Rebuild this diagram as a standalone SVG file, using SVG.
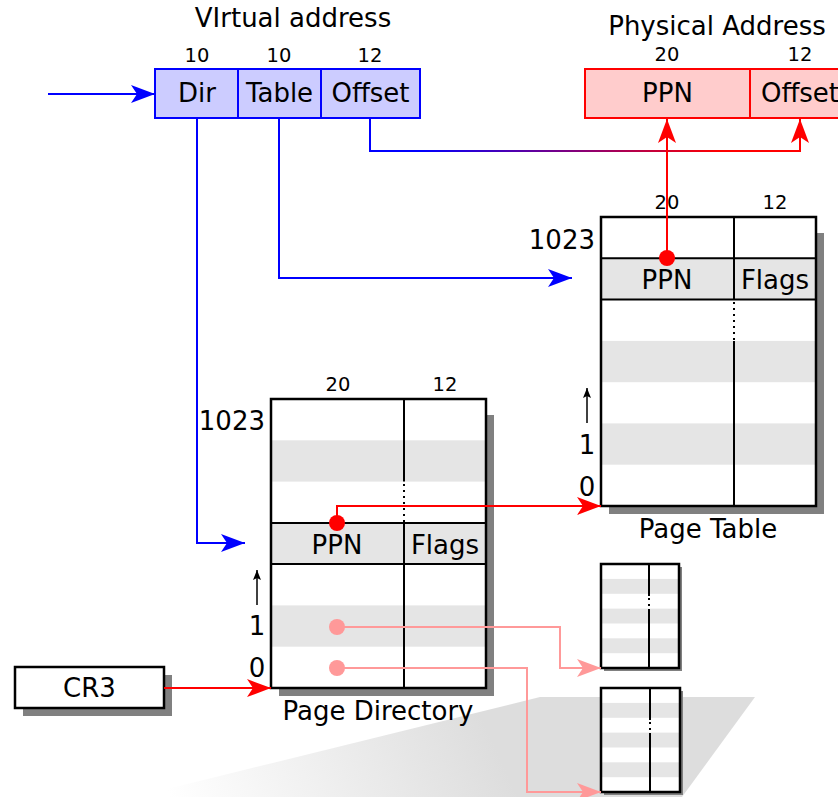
<svg xmlns="http://www.w3.org/2000/svg" width="838" height="797" viewBox="0 0 838 797">
<style>
text{font-family:"DejaVu Sans","Liberation Sans",sans-serif;fill:#000}
.lg{font-size:26px}
.sm{font-size:19.5px}
.mid{text-anchor:middle}
.end{text-anchor:end}
.bd{fill:none;stroke:#000;stroke-width:2.5}
.ln{stroke:#000;stroke-width:2;fill:none}
.dot{stroke:#000;stroke-width:2;stroke-dasharray:2,4;fill:none}
.gr{fill:#e5e5e5}
.sh{fill:#808080}
.blue{stroke:#0000ff;stroke-width:2;fill:none}
.red{stroke:#ff0000;stroke-width:2;fill:none}
.pink{stroke:#ff9999;stroke-width:2;fill:none}
</style>
<defs>
<linearGradient id="gBR" gradientUnits="userSpaceOnUse" x1="420" y1="0" x2="720" y2="0">
<stop offset="0" stop-color="#0000ff"/><stop offset="1" stop-color="#ff0000"/>
</linearGradient>
<linearGradient id="floor" gradientUnits="userSpaceOnUse" x1="180" y1="820" x2="470" y2="690">
<stop offset="0" stop-color="#ffffff"/><stop offset="1" stop-color="#dddddd"/>
</linearGradient>
<marker id="aB" markerUnits="userSpaceOnUse" viewBox="0 0 24 18" markerWidth="24" markerHeight="18" refX="24" refY="9" orient="auto"><path d="M0,0 L24,9 L0,18 L6,9 Z" fill="#0000ff"/></marker>
<marker id="aR" markerUnits="userSpaceOnUse" viewBox="0 0 24 18" markerWidth="24" markerHeight="18" refX="24" refY="9" orient="auto"><path d="M0,0 L24,9 L0,18 L6,9 Z" fill="#ff0000"/></marker>
<marker id="aP" markerUnits="userSpaceOnUse" viewBox="0 0 24 18" markerWidth="24" markerHeight="18" refX="24" refY="9" orient="auto"><path d="M0,0 L24,9 L0,18 L6,9 Z" fill="#ff9999"/></marker>
<marker id="aK" markerUnits="userSpaceOnUse" viewBox="0 0 10 8" markerWidth="10" markerHeight="8" refX="10" refY="4" orient="auto"><path d="M0,0 L10,4 L0,8 L2,4 Z" fill="#000"/></marker>
</defs>
<rect width="838" height="797" fill="#fff"/>
<polygon points="135,797 540,697 755,697 682,797" fill="url(#floor)"/>

<g id="virtual-address">
<text class="lg mid" x="293" y="27">VIrtual address</text>
<text class="sm mid" x="197" y="62">10</text>
<text class="sm mid" x="279" y="62">10</text>
<text class="sm mid" x="370" y="62">12</text>
<rect x="155" y="69" width="265" height="49" fill="#ccccff" stroke="#0000ff" stroke-width="2"/>
<line x1="238" y1="69" x2="238" y2="118" stroke="#0000ff" stroke-width="2"/>
<line x1="321" y1="69" x2="321" y2="118" stroke="#0000ff" stroke-width="2"/>
<text class="lg mid" x="197" y="102">Dir</text>
<text class="lg mid" x="279.5" y="102">Table</text>
<text class="lg mid" x="370.5" y="102">Offset</text>
</g>

<g id="physical-address">
<text class="lg mid" x="717" y="35">Physical Address</text>
<text class="sm mid" x="667" y="61">20</text>
<text class="sm mid" x="800" y="61">12</text>
<rect x="585" y="69" width="270" height="49" fill="#ffcccc" stroke="#ff0000" stroke-width="2"/>
<line x1="750" y1="69" x2="750" y2="118" stroke="#ff0000" stroke-width="2"/>
<text class="lg mid" x="667.5" y="102">PPN</text>
<text class="lg mid" x="800" y="102">Offset</text>
</g>

<g id="page-table">
<text class="sm mid" x="667" y="209">20</text>
<text class="sm mid" x="775" y="209">12</text>
<rect class="sh" x="609" y="233" width="215" height="281"/>
<rect x="601" y="217" width="215" height="289" fill="#fff"/>
<rect class="gr" x="601" y="258.3" width="215" height="41.3"/>
<rect class="gr" x="601" y="340.9" width="215" height="41.3"/>
<rect class="gr" x="601" y="423.4" width="215" height="41.3"/>
<line class="ln" x1="601" y1="258.3" x2="816" y2="258.3"/>
<line class="ln" x1="601" y1="299.6" x2="816" y2="299.6"/>
<line class="ln" x1="734" y1="217" x2="734" y2="299.6"/>
<line class="dot" x1="734" y1="302" x2="734" y2="340.9"/>
<line class="ln" x1="734" y1="340.9" x2="734" y2="506"/>
<rect class="bd" x="601" y="217" width="215" height="289"/>
<text class="lg mid" x="667" y="289">PPN</text>
<text class="lg mid" x="775" y="289">Flags</text>
<text class="lg end" x="595" y="249">1023</text>
<text class="lg mid" x="587" y="454">1</text>
<text class="lg mid" x="587" y="496">0</text>
<line x1="587" y1="423" x2="587" y2="388" stroke="#000" stroke-width="1.5" marker-end="url(#aK)"/>
<text class="lg mid" x="708" y="538">Page Table</text>
</g>

<g id="page-directory">
<text class="sm mid" x="338" y="391">20</text>
<text class="sm mid" x="445" y="391">12</text>
<rect class="sh" x="279" y="415" width="215" height="281"/>
<rect x="271" y="399" width="215" height="289" fill="#fff"/>
<rect class="gr" x="271" y="440.3" width="215" height="41.3"/>
<rect class="gr" x="271" y="522.9" width="215" height="41.3"/>
<rect class="gr" x="271" y="605.4" width="215" height="41.3"/>
<line class="ln" x1="271" y1="522.9" x2="486" y2="522.9"/>
<line class="ln" x1="271" y1="564.1" x2="486" y2="564.1"/>
<line class="ln" x1="404" y1="399" x2="404" y2="481.6"/>
<line class="dot" x1="404" y1="484" x2="404" y2="522.9"/>
<line class="ln" x1="404" y1="522.9" x2="404" y2="688"/>
<rect class="bd" x="271" y="399" width="215" height="289"/>
<text class="lg mid" x="337" y="554">PPN</text>
<text class="lg mid" x="445" y="554">Flags</text>
<text class="lg end" x="265" y="430">1023</text>
<text class="lg mid" x="257" y="635">1</text>
<text class="lg mid" x="257" y="677">0</text>
<line x1="257" y1="605" x2="257" y2="570" stroke="#000" stroke-width="1.5" marker-end="url(#aK)"/>
<text class="lg mid" x="378" y="720">Page Directory</text>
</g>

<g id="cr3">
<rect class="sh" x="23" y="675" width="149" height="41"/>
<rect x="15" y="667" width="149" height="41" fill="#fff" stroke="#000" stroke-width="2.5"/>
<text class="lg mid" x="89.5" y="697">CR3</text>
</g>

<g id="page-table-a">
<rect class="sh" x="604" y="567" width="78" height="104"/>
<rect x="601" y="564" width="78" height="104" fill="#fff"/>
<rect class="gr" x="601" y="578.9" width="78" height="14.9"/>
<rect class="gr" x="601" y="608.6" width="78" height="14.9"/>
<rect class="gr" x="601" y="638.3" width="78" height="14.9"/>
<line class="ln" x1="649" y1="564" x2="649" y2="596"/>
<line class="dot" x1="649" y1="598" x2="649" y2="608"/>
<line class="ln" x1="649" y1="609" x2="649" y2="668"/>
<rect class="bd" x="601" y="564" width="78" height="104"/>
</g>

<g id="page-table-b">
<rect class="sh" x="604" y="691" width="79" height="104"/>
<rect x="601" y="688" width="79" height="104" fill="#fff"/>
<rect class="gr" x="601" y="702.9" width="79" height="14.9"/>
<rect class="gr" x="601" y="732.6" width="79" height="14.9"/>
<rect class="gr" x="601" y="762.3" width="79" height="14.9"/>
<line class="ln" x1="650" y1="688" x2="650" y2="720"/>
<line class="dot" x1="650" y1="722" x2="650" y2="732"/>
<line class="ln" x1="650" y1="733" x2="650" y2="792"/>
<rect class="bd" x="601" y="688" width="79" height="104"/>
</g>

<g id="connectors">
<line class="blue" x1="48" y1="94" x2="155" y2="94" marker-end="url(#aB)"/>
<path class="blue" d="M197,118 V543 H245" marker-end="url(#aB)"/>
<path class="blue" d="M279,118 V278 H572" marker-end="url(#aB)"/>
<path d="M370,118 V151 H800 V119" fill="none" stroke="url(#gBR)" stroke-width="2" marker-end="url(#aR)"/>
<path class="red" d="M667,258 V119" marker-end="url(#aR)"/>
<path class="red" d="M337,523 V506 H601" marker-end="url(#aR)"/>
<line class="red" x1="164" y1="688" x2="271" y2="688" marker-end="url(#aR)"/>
<path class="pink" d="M337,627 H560 V668 H601" marker-end="url(#aP)"/>
<path class="pink" d="M337,668 H527 V792 H601" marker-end="url(#aP)"/>
<circle cx="667" cy="258" r="8" fill="#ff0000"/>
<circle cx="337" cy="523" r="8" fill="#ff0000"/>
<circle cx="337" cy="627" r="8" fill="#ff9999"/>
<circle cx="337" cy="668" r="8" fill="#ff9999"/>
</g>
</svg>
